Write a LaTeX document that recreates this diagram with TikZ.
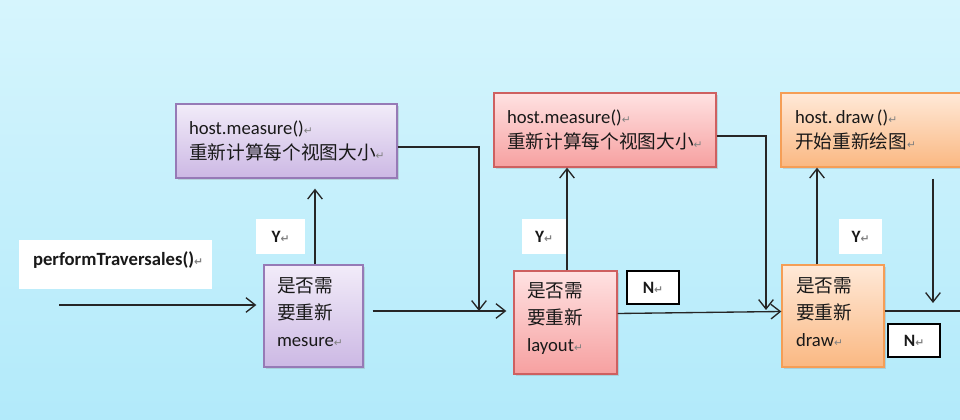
\documentclass[tikz,border=0pt]{standalone}
\usepackage{fontspec}
\setmainfont{Carlito}
\newfontfamily\cjk{Noto Sans CJK SC}
\newfontfamily\symf{DejaVu Sans}
\usetikzlibrary{arrows.meta,shadows,calc}
\definecolor{bgtop}{RGB}{214,245,253}
\definecolor{bgbot}{RGB}{178,234,250}
\definecolor{ptop}{RGB}{242,236,249}
\definecolor{pbot}{RGB}{204,184,228}
\definecolor{pborder}{RGB}{150,122,182}
\definecolor{rtop}{RGB}{255,226,226}
\definecolor{rbot}{RGB}{246,160,160}
\definecolor{rborder}{RGB}{206,96,96}
\definecolor{otop}{RGB}{255,233,216}
\definecolor{obot}{RGB}{250,184,130}
\definecolor{oborder}{RGB}{245,158,86}
\newcommand\retm{{\symf\fontsize{8}{8}\selectfont\textcolor{gray}{↵}}}
\begin{document}
\begin{tikzpicture}[x=0.75pt,y=-0.75pt,
  box/.style={draw, line width=1pt, inner xsep=9.75pt, inner ysep=0pt, align=left,
    font=\fontsize{14}{19}\selectfont, text=black!90,
    drop shadow={opacity=0.25,shadow xshift=1.5pt,shadow yshift=-1.5pt}},
  decision/.style={font=\fontsize{14}{20}\selectfont},
  purplebox/.style={box, draw=pborder, top color=ptop, bottom color=pbot},
  redbox/.style={box, draw=rborder, top color=rtop, bottom color=rbot},
  orangebox/.style={box, draw=oborder, top color=otop, bottom color=obot},
  ylabel/.style={fill=white, inner sep=0pt, font=\bfseries\fontsize{13}{15}\selectfont, text=black!90},
  nlabel/.style={fill=white, draw=black, line width=1pt, inner sep=0pt, font=\bfseries\fontsize{13}{15}\selectfont, text=black!90},
  arr/.style={draw=black!85, line width=1pt, -{Straight Barb[length=7pt,width=11pt,line width=1pt]}},
  plainline/.style={draw=black!85, line width=1pt}]
\clip (0,0) rectangle (960,420);
\shade[top color=bgtop,bottom color=bgbot] (0,0) rectangle (960,420);

% start label
\node[fill=white, inner xsep=10.5pt, inner ysep=0pt, text width=123.75pt, minimum height=36.75pt,
  align=left, font=\bfseries\fontsize{14}{17}\selectfont, text=black!90] (pt) at (115.5,264.5)
  {performTraversales()\retm\par\vspace{7pt}};

% boxes
\node[purplebox, text width=146.25pt, minimum height=55.5pt] (t1) at (286.5,141)
  {host.measure()\retm\\{\cjk 重新计算每个视图大小}\retm};
\node[purplebox, decision, text width=54.75pt, minimum height=76.5pt] (d1) at (313.5,316)
  {{\cjk 是否需}\\{\cjk 要重新}\\mesure\retm\par\vspace{6pt}};
\node[redbox, text width=147pt, minimum height=55.5pt] (t2) at (605,130)
  {host.measure()\retm\\{\cjk 重新计算每个视图大小}\retm};
\node[redbox, decision, text width=57.75pt, minimum height=77.25pt] (d2) at (565.5,322.5)
  {{\cjk 是否需}\\{\cjk 要重新}\\layout\retm\par\vspace{6pt}};
\node[orangebox, text width=147pt, minimum height=55.5pt, inner xsep=10.5pt] (t3) at (893,130)
  {host.\,draw\,()\retm\\{\cjk 开始重新绘图}\retm};
\node[orangebox, decision, text width=55.5pt, minimum height=76.5pt, inner xsep=10.5pt] (d3) at (833,316)
  {{\cjk 是否需}\\{\cjk 要重新}\\draw\retm\par\vspace{6pt}};

% Y / N labels
\node[ylabel, minimum width=36.75pt, minimum height=26.25pt] (y1) at (280.5,236.5) {Y\retm};
\node[ylabel, minimum width=33pt, minimum height=26.25pt] (y2) at (544,236.5) {Y\retm};
\node[ylabel, minimum width=32.25pt, minimum height=26.25pt] (y3) at (860.5,236.5) {Y\retm};
\node[nlabel, minimum width=39pt, minimum height=24.75pt] (n1) at (653,287.5) {N\retm};
\node[nlabel, minimum width=39pt, minimum height=24.75pt] (n2) at (914,340.5) {N\retm};

% connectors
\coordinate (s0) at (59,305);
\draw[arr] (s0) -- ($(d1.west |- s0)+(-7,0)$);
\draw[arr, shorten >=7.5pt] ($(d1.north)+(1.5,0)$) -- ($(d1.north |- t1.south)+(1.5,0)$);
\coordinate (j1) at (479,311);
\draw[arr] ($(t1.east)+(0,6)$) -| (j1);
\draw[arr] ($(d1.east)+(9,-5)$) -- ($(d2.west)+(-7,-11.5)$);

\draw[arr] ($(d2.north)+(1.5,0)$) -- ($(d2.north |- t2.south)+(1.5,0)$);
\draw[arr] ($(d2.east)+(0,-9)$) -- ($(d3.west)+(0,-4.5)$);
\coordinate (j2) at (766,310);
\draw[arr] ($(t2.east)+(0,6)$) -| (j2);

\draw[arr] ($(d3.north)+(-16,0)$) -- ($(d3.north |- t3.south)+(-16,0)$);
\coordinate (k3) at (933,303);
\draw[arr, shorten <=8.25pt] (t3.south -| k3) -- (k3);
\coordinate (e3) at (962,311);
\draw[plainline] ($(d3.east)+(0,-5)$) -- (e3);
\end{tikzpicture}
\end{document}
